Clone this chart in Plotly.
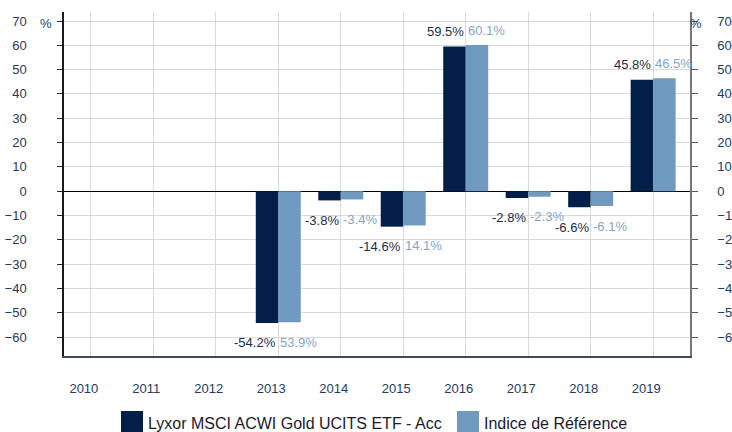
import plotly.graph_objects as go

years = ["2010", "2011", "2012", "2013", "2014", "2015", "2016", "2017", "2018", "2019"]
fund = [None, None, None, -54.2, -3.8, -14.6, 59.5, -2.8, -6.6, 45.8]
index = [None, None, None, -53.9, -3.4, -14.1, 60.1, -2.3, -6.1, 46.5]
fund_labels = ["", "", "", "-54.2%", "-3.8%", "-14.6%", "59.5%", "-2.8%", "-6.6%", "45.8%"]
index_labels = ["", "", "", "53.9%", "-3.4%", "14.1%", "60.1%", "-2.3%", "-6.1%", "46.5%"]
y_ticks = [-60, -50, -40, -30, -20, -10, 0, 10, 20, 30, 40, 50, 60, 70]
series_names = ["Lyxor MSCI ACWI Gold UCITS ETF - Acc", "Indice de Référence"]

DARK = "#021f4a"
LIGHT = "#7099bf"
DARK_TXT = "#1b2b4c"
LIGHT_TXT = "#84a3c8"
TICK_TXT = "#263a60"
FONT = "Liberation Sans, Arial, sans-serif"

fig = go.Figure()
fig.add_trace(go.Bar(x=years, y=fund, name=series_names[0], marker=dict(color=DARK, line=dict(width=0)),
                     offsetgroup="a", showlegend=False))
fig.add_trace(go.Bar(x=years, y=index, name=series_names[1], marker=dict(color=LIGHT, line=dict(width=0)),
                     offsetgroup="b", showlegend=False))
# invisible trace for the right axis
fig.add_trace(go.Scatter(x=years, y=[None] * len(years), yaxis="y2", showlegend=False, hoverinfo="skip"))

ann = []
for i, (v, t) in enumerate(zip(fund, fund_labels)):
    if v is None:
        continue
    ann.append(dict(x=i, y=v, xref="x", yref="y", text=t, showarrow=False, xanchor="right", yanchor="middle",
                    yshift=15 if v > 0 else -20, font=dict(color=DARK_TXT, size=13, family=FONT)))
for i, (v, t) in enumerate(zip(index, index_labels)):
    if v is None:
        continue
    ann.append(dict(x=i, y=v, xref="x", yref="y", text=t, showarrow=False, xanchor="left", yanchor="middle",
                    yshift=15 if v > 0 else -20, font=dict(color=LIGHT_TXT, size=13, family=FONT)))

# "%" unit labels
ann.append(dict(xref="paper", yref="paper", x=-0.029, y=0.968, text="%", showarrow=False,
                xanchor="center", yanchor="middle", font=dict(color=TICK_TXT, size=13, family=FONT)))
ann.append(dict(xref="paper", yref="paper", x=1.009, y=0.968, text="%", showarrow=False,
                xanchor="center", yanchor="middle", font=dict(color=TICK_TXT, size=13, family=FONT)))

FW, FH = 732, 432
L, T, W, H = 64, 12, 626, 344
def px(x):
    return (x - L) / W
def py(y):
    return (T + H - y) / H

shapes = [
    dict(type="rect", xref="paper", yref="paper", x0=px(121), x1=px(143), y0=py(434), y1=py(411),
         fillcolor=DARK, line=dict(width=0)),
    dict(type="rect", xref="paper", yref="paper", x0=px(457), x1=px(479), y0=py(434), y1=py(411),
         fillcolor=LIGHT, line=dict(width=0)),
]
ann.append(dict(xref="paper", yref="paper", x=px(146), y=py(423), text=series_names[0], showarrow=False,
                xanchor="left", yanchor="middle", font=dict(color="#1a1a2e", size=16, family=FONT)))
ann.append(dict(xref="paper", yref="paper", x=px(482), y=py(423), text=series_names[1], showarrow=False,
                xanchor="left", yanchor="middle", font=dict(color="#1a1a2e", size=16, family=FONT)))

yr_range = [-67.8, 73.7]
fig.update_layout(
    width=FW, height=FH,
    margin=dict(l=L, r=FW - L - W, t=T, b=FH - T - H, pad=0, autoexpand=False),
    paper_bgcolor="white", plot_bgcolor="white",
    barmode="group", bargap=0.28, bargroupgap=0,
    font=dict(family=FONT, size=13, color=TICK_TXT),
    annotations=ann, shapes=shapes,
    xaxis=dict(type="category", range=[-0.43, 9.59], showgrid=True, gridcolor="#d9d9d9", gridwidth=1,
               showline=True, linecolor="#3c4a68", linewidth=1.5, mirror=False, ticks="",
               ticklabelshift=-7, ticklabelstandoff=20, tickfont=dict(size=13, color=TICK_TXT),
               zeroline=False, automargin=False),
    yaxis=dict(range=yr_range, tickvals=y_ticks, showgrid=True, gridcolor="#d9d9d9", gridwidth=1,
               zeroline=True, zerolinecolor="#000000", zerolinewidth=1,
               showline=True, linecolor="#1a1a1a", linewidth=1.5, ticks="outside", ticklen=5,
               tickcolor="#1a2a4a", ticklabelstandoff=28, tickfont=dict(size=13, color=TICK_TXT),
               automargin=False),
    yaxis2=dict(range=yr_range, tickvals=y_ticks, overlaying="y", side="right", showgrid=False,
                zeroline=False, showline=True, linecolor="#777777", linewidth=1.5, ticks="outside",
                ticklen=6, tickcolor="#555555", ticklabelstandoff=17, tickfont=dict(size=13, color=TICK_TXT),
                automargin=False),
)

fig.write_html("out.html", config={"displayModeBar": False},
               post_script="document.body.style.margin='0';document.body.style.overflow='hidden';")
